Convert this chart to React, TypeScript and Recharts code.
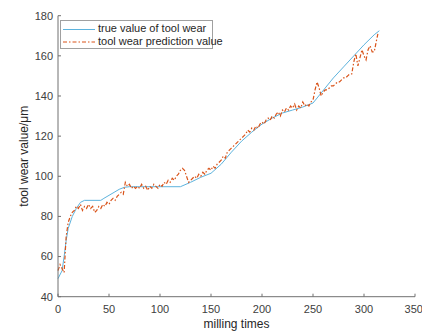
import React from "react";
import { LineChart, Line, XAxis, YAxis } from "recharts";

const trueX = [0, 4, 6, 8, 10, 14, 18, 22, 26, 42, 45, 50, 55, 60, 65, 70, 120, 130, 140, 150, 160, 170, 180, 190, 200, 210, 220, 230, 240, 250, 258, 270, 280, 290, 300, 310, 315];
const trueY = [49, 53, 60, 68, 74, 80, 84, 87, 88, 88, 89, 90.5, 92, 93.5, 94.5, 94.8, 94.8, 97, 99.5, 101.5, 106, 112, 117.5, 122, 126, 129, 131.5, 133, 134.5, 136.5, 141.5, 149, 154.5, 160, 165.5, 170.5, 172.5];

const predY = [
  53, 56, 54, 52, 70, 77, 80, 82, 83, 85,
  84, 86, 83, 85, 84, 86, 84, 85, 82, 83,
  85, 84, 86, 85, 87, 86, 88, 89, 88, 90,
  91, 92, 91, 97, 95, 96, 94, 95, 94, 95,
  94, 96, 94, 95, 93, 95, 94, 96, 95, 94,
  96, 95, 97, 96, 98, 97, 99, 98, 100, 101,
  103, 104, 103, 100, 97, 98, 99, 100, 99, 101,
  100, 102, 101, 103, 104, 103, 105, 104, 106, 107,
  108, 110, 109, 112, 113, 114, 115, 116, 117, 118,
  119, 120, 121, 123, 122, 124, 123, 125, 124, 126,
  127, 126, 128, 129, 128, 130, 129, 131, 132, 130,
  133, 132, 134, 133, 135, 134, 136, 133, 135, 134,
  137, 135, 136, 135, 137, 138, 143, 147, 144, 140,
  142, 143, 143, 144, 145, 145, 146, 147, 147, 148,
  149, 149, 150, 151, 151, 157, 161, 155, 159, 163,
  160, 158, 163, 165, 162, 162, 167, 172
];
const predStep = 2;

const xTicks = [0, 50, 100, 150, 200, 250, 300, 350];
const yTicks = [40, 60, 80, 100, 120, 140, 160, 180];

const seriesNames = ["true value of tool wear", "tool wear prediction value"];

const trueData = trueX.map((x, i) => ({ x, v: trueY[i] }));
const predData = predY.map((v, i) => ({ x: i * predStep, v }));

const BLUE = "#5DB3DD";
const ORANGE = "#D95319";
const FONT = "Liberation Sans, Arial, sans-serif";

const LegendBox = () => (
  <div
    style={{
      position: "absolute",
      left: 60,
      top: 20,
      width: 151,
      height: 27,
      border: "1px solid #a0a0a0",
      background: "#fff",
      fontFamily: FONT,
      fontSize: 11,
      color: "#262626",
    }}
  >
    <svg width={36} height={27} style={{ position: "absolute", left: 0, top: 0 }}>
      <line x1={2} x2={34} y1={8.5} y2={8.5} stroke={BLUE} strokeWidth={1} />
      <line x1={2} x2={34} y1={21} y2={21} stroke={ORANGE} strokeWidth={1} strokeDasharray="4 2 1.5 2" />
    </svg>
    <div style={{ position: "absolute", left: 37, top: 1, whiteSpace: "nowrap", lineHeight: "13px" }}>{seriesNames[0]}</div>
    <div style={{ position: "absolute", left: 37, top: 14, whiteSpace: "nowrap", lineHeight: "13px" }}>{seriesNames[1]}</div>
  </div>
);

export default function App() {
  return (
    <div style={{ position: "absolute", left: 0, top: 0, width: 422, height: 331, background: "#fff" }}>
      <LineChart width={422} height={331} margin={{ top: 15.7, right: 7, bottom: 0, left: 0 }}>
        <XAxis
          dataKey="x"
          type="number"
          domain={[0, 350]}
          ticks={xTicks}
          allowDuplicatedCategory={false}
          height={34.3}
          stroke="#707070"
          tickSize={-3}
          tickMargin={11}
          tick={{ fill: "#404040", fontSize: 11, fontFamily: FONT }}
          label={{ value: "milling times", position: "insideBottom", offset: 3, fill: "#262626", fontSize: 12, fontFamily: FONT }}
        />
        <YAxis
          dataKey="v"
          type="number"
          domain={[40, 180]}
          ticks={yTicks}
          width={58}
          stroke="#707070"
          tickSize={-3}
          tickMargin={8}
          tick={{ fill: "#404040", fontSize: 11, fontFamily: FONT }}
          label={{ value: "tool wear value/μm", angle: -90, position: "center", dx: -5, fill: "#262626", fontSize: 12, fontFamily: FONT }}
        />
        <Line
          data={trueData}
          dataKey="v"
          stroke={BLUE}
          strokeWidth={1}
          dot={false}
          isAnimationActive={false}
          type="linear"
        />
        <Line
          data={predData}
          dataKey="v"
          stroke={ORANGE}
          strokeWidth={1.2}
          strokeDasharray="4 2 1.5 2"
          dot={false}
          isAnimationActive={false}
          type="linear"
        />
      </LineChart>
      <LegendBox />
    </div>
  );
}
